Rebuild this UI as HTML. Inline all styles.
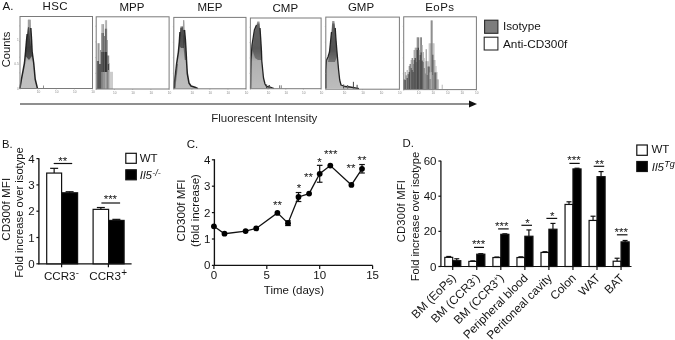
<!DOCTYPE html>
<html><head><meta charset="utf-8"><style>
html,body{margin:0;padding:0;background:#fff;}
svg{display:block;font-family:"Liberation Sans", sans-serif;will-change:transform;}
</style></head><body>
<svg width="675" height="340" viewBox="0 0 675 340">
<defs><filter id="soft" x="-5%" y="-5%" width="110%" height="110%"><feGaussianBlur stdDeviation="0.35"/></filter>
<linearGradient id="g1" x1="0" y1="16" x2="0" y2="89" gradientUnits="userSpaceOnUse"><stop offset="0" stop-color="#b0b0b0"/><stop offset="0.15" stop-color="#888"/><stop offset="0.44" stop-color="#666"/><stop offset="0.63" stop-color="#bdbdbd"/><stop offset="1" stop-color="#c0c0c0"/></linearGradient><linearGradient id="g2" x1="0" y1="16" x2="0" y2="89" gradientUnits="userSpaceOnUse"><stop offset="0" stop-color="#aaa"/><stop offset="0.15" stop-color="#999"/><stop offset="0.26" stop-color="#8a8a8a"/><stop offset="0.4" stop-color="#a0a0a0"/><stop offset="0.6" stop-color="#b8b8b8"/><stop offset="1" stop-color="#bdbdbd"/></linearGradient><linearGradient id="g3" x1="0" y1="16" x2="0" y2="89" gradientUnits="userSpaceOnUse"><stop offset="0" stop-color="#aaa"/><stop offset="0.15" stop-color="#888"/><stop offset="0.45" stop-color="#7a7a7a"/><stop offset="0.62" stop-color="#b0b0b0"/><stop offset="1" stop-color="#bdbdbd"/></linearGradient><linearGradient id="g4" x1="0" y1="16" x2="0" y2="89" gradientUnits="userSpaceOnUse"><stop offset="0" stop-color="#aaa"/><stop offset="0.12" stop-color="#888"/><stop offset="0.45" stop-color="#707070"/><stop offset="0.62" stop-color="#b0b0b0"/><stop offset="1" stop-color="#bdbdbd"/></linearGradient></defs>
<rect width="675" height="340" fill="#fff"/>
<text x="2.6" y="10.2" font-size="11.5" text-anchor="start" fill="#141414" >A.</text>
<text x="55.225" y="9.6" font-size="11.5" text-anchor="middle" fill="#141414" letter-spacing="0.45">HSC</text>
<text x="132.0" y="10.7" font-size="11.5" text-anchor="middle" fill="#141414" >MPP</text>
<text x="210.0" y="11.4" font-size="11.5" text-anchor="middle" fill="#141414" >MEP</text>
<text x="285.3" y="12.0" font-size="11.5" text-anchor="middle" fill="#141414" >CMP</text>
<text x="361.0" y="10.9" font-size="11.5" text-anchor="middle" fill="#141414" >GMP</text>
<text x="439.82500000000005" y="11.4" font-size="11.5" text-anchor="middle" fill="#141414" letter-spacing="0.45">EoPs</text>
<g filter="url(#soft)">
<polygon points="19.90,88.60 21.40,79.30 23.00,71.00 24.50,63.00 25.60,51.50 26.40,42.00 27.20,34.00 27.90,26.00 27.90,19.80 30.60,19.80 30.80,28.00 31.50,39.00 32.10,51.50 33.70,63.00 35.20,79.30 37.50,88.60" fill="url(#g1)" stroke="none" stroke-width="0" fill-opacity="1" stroke-linejoin="round"/>
<polygon points="25.40,56.00 26.20,44.00 27.20,34.00 28.00,26.70 29.00,26.70 29.90,39.00 31.20,48.00 32.00,56.00 29.00,60.00" fill="#2a2a2a" stroke="none" stroke-width="0" fill-opacity="0.7" stroke-linejoin="round"/>
<polygon points="27.90,27.00 27.90,19.80 30.60,19.80 30.80,28.00" fill="#a0a0a0" stroke="none" stroke-width="0" fill-opacity="1" stroke-linejoin="round"/>
<polyline points="19.90,88.60 21.40,79.30 23.00,71.00 24.50,63.00 25.60,51.50 26.40,42.00 27.20,34.00" fill="none" stroke="#222" stroke-width="1.5" stroke-opacity="1" stroke-linejoin="round"/>
<polyline points="30.80,28.00 31.50,39.00 32.10,51.50 33.70,63.00 35.20,79.30 37.50,88.60" fill="none" stroke="#222" stroke-width="1.5" stroke-opacity="1" stroke-linejoin="round"/>
<rect x="43" y="85.5" width="0.8" height="3.5" fill="#777"/>
<polygon points="174.20,88.60 174.50,82.00 175.50,74.00 176.60,64.00 178.40,52.00 179.30,42.50 180.00,32.00 180.30,26.60 182.90,26.00 183.10,20.20 184.20,20.20 184.50,30.00 185.40,40.00 186.10,52.00 186.60,62.00 187.30,73.50 189.00,83.00 191.00,86.00 195.00,87.20 198.00,88.60" fill="url(#g2)" stroke="none" stroke-width="0" fill-opacity="1" stroke-linejoin="round"/>
<polygon points="179.40,46.00 180.00,33.00 180.30,28.00 183.00,27.00 184.40,30.00 185.00,40.00 184.00,48.00 181.00,48.00" fill="#333" stroke="none" stroke-width="0" fill-opacity="0.7" stroke-linejoin="round"/>
<polygon points="183.10,30.00 183.10,20.20 184.20,20.20 184.30,30.00" fill="#a0a0a0" stroke="none" stroke-width="0" fill-opacity="1" stroke-linejoin="round"/>
<polyline points="174.20,88.60 174.50,82.00 175.50,74.00 176.60,64.00 178.40,52.00 179.30,42.50 180.00,32.00" fill="none" stroke="#222" stroke-width="1.5" stroke-opacity="1" stroke-linejoin="round"/>
<polyline points="184.50,30.00 185.40,40.00 186.10,52.00 186.60,62.00 187.30,73.50 189.00,83.00 191.00,86.00 195.00,87.20 198.00,88.60" fill="none" stroke="#222" stroke-width="1.5" stroke-opacity="1" stroke-linejoin="round"/>
<polygon points="183.20,36.00 184.60,31.00 185.40,40.00 186.10,52.00 186.40,60.00 184.80,60.00 183.80,50.00 183.20,42.00" fill="#333" stroke="none" stroke-width="0" fill-opacity="0.6" stroke-linejoin="round"/>
<polygon points="174.30,88.60 174.60,78.00 175.60,72.00 176.80,64.00 178.00,64.00 177.00,74.00 176.00,82.00 175.60,88.60" fill="#444" stroke="none" stroke-width="0" fill-opacity="0.6" stroke-linejoin="round"/>
<polygon points="250.60,88.60 250.80,70.00 251.00,60.00 252.00,45.00 254.40,30.00 256.50,25.00 257.30,21.50 259.50,21.50 260.00,28.00 260.80,40.00 261.50,52.00 261.80,61.00 263.50,78.00 265.00,84.00 266.50,86.50 270.00,87.00 274.00,88.60" fill="url(#g3)" stroke="none" stroke-width="0" fill-opacity="1" stroke-linejoin="round"/>
<polygon points="252.50,50.00 254.60,33.00 257.30,23.50 259.50,23.50 260.60,38.00 261.40,50.00 261.70,60.00 258.00,60.00 255.00,58.00" fill="#333" stroke="none" stroke-width="0" fill-opacity="0.45" stroke-linejoin="round"/>
<polyline points="250.60,88.60 250.80,70.00 251.00,60.00 252.00,45.00 254.40,30.00 256.50,25.00" fill="none" stroke="#222" stroke-width="1.3" stroke-opacity="1" stroke-linejoin="round"/>
<polyline points="260.00,28.00 260.80,40.00 261.50,52.00 261.80,61.00 263.50,78.00 265.00,84.00 266.50,86.50 270.00,87.00 274.00,88.60" fill="none" stroke="#222" stroke-width="1.3" stroke-opacity="1" stroke-linejoin="round"/>
<rect x="266" y="84.5" width="1.2" height="4" fill="#444"/>
<rect x="268.5" y="85" width="1.5" height="3.6" fill="#555"/>
<rect x="279.2" y="85.3" width="0.9" height="3.3" fill="#666"/>
<rect x="280.8" y="85.3" width="0.9" height="3.3" fill="#777"/>
<polygon points="325.80,88.60 325.80,70.00 326.50,60.00 328.00,57.00 329.50,52.00 330.50,42.00 331.50,32.00 332.20,21.00 334.40,21.00 335.20,28.00 336.00,40.00 337.00,52.00 337.70,60.00 338.60,70.00 339.70,80.00 341.00,85.00 345.00,86.50 350.00,87.00 359.00,88.60" fill="url(#g4)" stroke="none" stroke-width="0" fill-opacity="1" stroke-linejoin="round"/>
<polygon points="328.00,62.00 329.50,54.00 330.50,44.00 331.60,33.00 332.30,23.40 334.40,23.40 335.30,32.00 336.20,44.00 337.20,56.00 335.00,62.00" fill="#333" stroke="none" stroke-width="0" fill-opacity="0.5" stroke-linejoin="round"/>
<polyline points="325.80,88.60 325.80,70.00 326.50,60.00 328.00,57.00 329.50,52.00 330.50,42.00 331.50,32.00" fill="none" stroke="#222" stroke-width="1.3" stroke-opacity="1" stroke-linejoin="round"/>
<polyline points="335.20,28.00 336.00,40.00 337.00,52.00 337.70,60.00 338.60,70.00 339.70,80.00 341.00,85.00 345.00,86.50 350.00,87.00 359.00,88.60" fill="none" stroke="#222" stroke-width="1.3" stroke-opacity="1" stroke-linejoin="round"/>
<rect x="352.9" y="81.8" width="1.0" height="6.8" fill="#444"/>
<rect x="356.6" y="84.8" width="1.0" height="3.8" fill="#444"/>
<rect x="343" y="84.5" width="1.2" height="4" fill="#555"/>
<rect x="347" y="85" width="1.2" height="3.6" fill="#666"/>
<rect x="96.8" y="43.2" width="1.20" height="45.80" fill="#ccc"/>
<rect x="96.8" y="61" width="1.20" height="28.00" fill="#666"/>
<rect x="98.0" y="43.2" width="1.00" height="45.80" fill="#999"/>
<rect x="98.0" y="61" width="1.00" height="28.00" fill="#555"/>
<rect x="99.0" y="43.2" width="1.00" height="45.80" fill="#c0c0c0"/>
<rect x="99.0" y="64" width="1.00" height="25.00" fill="#555"/>
<rect x="100.0" y="50" width="1.40" height="39.00" fill="#999"/>
<rect x="100.0" y="64" width="1.40" height="25.00" fill="#555"/>
<rect x="101.4" y="24.1" width="1.00" height="64.90" fill="#aaa"/>
<rect x="101.4" y="33" width="1.00" height="56.00" fill="#777"/>
<rect x="101.4" y="52" width="1.00" height="37.00" fill="#333"/>
<rect x="101.4" y="72" width="1.00" height="17.00" fill="#999"/>
<rect x="102.4" y="24.1" width="1.50" height="64.90" fill="#999"/>
<rect x="102.4" y="33" width="1.50" height="56.00" fill="#666"/>
<rect x="102.4" y="52" width="1.50" height="37.00" fill="#3a3a3a"/>
<rect x="102.4" y="72" width="1.50" height="17.00" fill="#aaa"/>
<rect x="103.9" y="36" width="1.00" height="53.00" fill="#777"/>
<rect x="103.9" y="52" width="1.00" height="37.00" fill="#555"/>
<rect x="103.9" y="72" width="1.00" height="17.00" fill="#aaa"/>
<rect x="104.9" y="20.2" width="1.10" height="68.80" fill="#bbb"/>
<rect x="104.9" y="28.7" width="1.10" height="60.30" fill="#666"/>
<rect x="104.9" y="52" width="1.10" height="37.00" fill="#333"/>
<rect x="104.9" y="72" width="1.10" height="17.00" fill="#aaa"/>
<rect x="106.0" y="20.2" width="1.10" height="68.80" fill="#b0b0b0"/>
<rect x="106.0" y="28.7" width="1.10" height="60.30" fill="#777"/>
<rect x="106.0" y="52" width="1.10" height="37.00" fill="#3a3a3a"/>
<rect x="106.0" y="72" width="1.10" height="17.00" fill="#999"/>
<rect x="107.1" y="40" width="0.70" height="49.00" fill="#888"/>
<rect x="107.1" y="55.5" width="0.70" height="33.50" fill="#555"/>
<rect x="107.1" y="72" width="0.70" height="17.00" fill="#999"/>
<rect x="107.8" y="55.5" width="1.40" height="33.50" fill="#888"/>
<rect x="107.8" y="64" width="1.40" height="25.00" fill="#444"/>
<rect x="107.8" y="70" width="1.40" height="19.00" fill="#999"/>
<rect x="109.2" y="63" width="0.80" height="26.00" fill="#bbb"/>
<rect x="110.0" y="71.8" width="3.00" height="17.20" fill="#ccc"/>
<rect x="403.7" y="79.4" width="1.00" height="9.60" fill="#444"/>
<rect x="404.7" y="72" width="1.00" height="17.00" fill="#999"/>
<rect x="404.7" y="80" width="1.00" height="9.00" fill="#333"/>
<rect x="405.7" y="75.3" width="1.00" height="13.70" fill="#777"/>
<rect x="406.7" y="70" width="1.00" height="19.00" fill="#aaa"/>
<rect x="406.7" y="78" width="1.00" height="11.00" fill="#444"/>
<rect x="407.7" y="74.1" width="1.00" height="14.90" fill="#555"/>
<rect x="408.7" y="66" width="1.00" height="23.00" fill="#888"/>
<rect x="408.7" y="72" width="1.00" height="17.00" fill="#333"/>
<rect x="409.7" y="64" width="1.00" height="25.00" fill="#444"/>
<rect x="410.7" y="60" width="1.00" height="29.00" fill="#aaa"/>
<rect x="410.7" y="68" width="1.00" height="21.00" fill="#555"/>
<rect x="411.7" y="58" width="1.00" height="31.00" fill="#666"/>
<rect x="411.7" y="70" width="1.00" height="19.00" fill="#333"/>
<rect x="412.7" y="64" width="1.00" height="25.00" fill="#999"/>
<rect x="412.7" y="72" width="1.00" height="17.00" fill="#444"/>
<rect x="413.7" y="50" width="1.00" height="39.00" fill="#888"/>
<rect x="413.7" y="60" width="1.00" height="29.00" fill="#333"/>
<rect x="414.7" y="47.7" width="1.00" height="41.30" fill="#aaa"/>
<rect x="414.7" y="58" width="1.00" height="31.00" fill="#222"/>
<rect x="415.7" y="47.7" width="1.00" height="41.30" fill="#777"/>
<rect x="415.7" y="62" width="1.00" height="27.00" fill="#555"/>
<rect x="416.7" y="37.3" width="1.00" height="51.70" fill="#888"/>
<rect x="416.7" y="50" width="1.00" height="39.00" fill="#444"/>
<rect x="417.7" y="37.3" width="1.00" height="51.70" fill="#555"/>
<rect x="417.7" y="47.7" width="1.00" height="41.30" fill="#222"/>
<rect x="418.7" y="50" width="1.00" height="39.00" fill="#999"/>
<rect x="418.7" y="60" width="1.00" height="29.00" fill="#444"/>
<rect x="419.7" y="37.3" width="1.00" height="51.70" fill="#999"/>
<rect x="419.7" y="55" width="1.00" height="34.00" fill="#555"/>
<rect x="420.7" y="37.3" width="1.00" height="51.70" fill="#555"/>
<rect x="420.7" y="52.4" width="1.00" height="36.60" fill="#222"/>
<rect x="421.7" y="45" width="1.00" height="44.00" fill="#aaa"/>
<rect x="421.7" y="60.6" width="1.00" height="28.40" fill="#333"/>
<rect x="422.7" y="52" width="1.00" height="37.00" fill="#999"/>
<rect x="422.7" y="62" width="1.00" height="27.00" fill="#555"/>
<rect x="423.7" y="58" width="1.00" height="31.00" fill="#bbb"/>
<rect x="423.7" y="68" width="1.00" height="21.00" fill="#777"/>
<rect x="424.7" y="73.5" width="1.00" height="15.50" fill="#888"/>
<rect x="425.7" y="49.2" width="1.00" height="39.80" fill="#888"/>
<rect x="425.7" y="61.2" width="1.00" height="27.80" fill="#666"/>
<rect x="426.7" y="61.2" width="1.00" height="27.80" fill="#bbb"/>
<rect x="426.7" y="75" width="1.00" height="14.00" fill="#666"/>
<rect x="427.7" y="61.2" width="1.00" height="27.80" fill="#aaa"/>
<rect x="427.7" y="66.5" width="1.00" height="22.50" fill="#444"/>
<rect x="428.7" y="43.3" width="1.00" height="45.70" fill="#bbb"/>
<rect x="428.7" y="66.5" width="1.00" height="22.50" fill="#333"/>
<rect x="429.7" y="43.3" width="1.00" height="45.70" fill="#b5b5b5"/>
<rect x="429.7" y="72.4" width="1.00" height="16.60" fill="#ddd"/>
<rect x="429.7" y="79" width="1.00" height="10.00" fill="#666"/>
<rect x="430.7" y="20.4" width="0.80" height="68.60" fill="#777"/>
<rect x="430.7" y="43.3" width="0.80" height="45.70" fill="#999"/>
<rect x="430.7" y="72.4" width="0.80" height="16.60" fill="#ddd"/>
<rect x="430.7" y="79" width="0.80" height="10.00" fill="#777"/>
<rect x="431.5" y="20.4" width="1.00" height="68.60" fill="#666"/>
<rect x="431.5" y="43.3" width="1.00" height="45.70" fill="#888"/>
<rect x="431.5" y="72" width="1.00" height="17.00" fill="#ccc"/>
<rect x="432.5" y="43.3" width="1.00" height="45.70" fill="#aaa"/>
<rect x="432.5" y="54.7" width="1.00" height="34.30" fill="#333"/>
<rect x="432.5" y="75" width="1.00" height="14.00" fill="#aaa"/>
<rect x="433.5" y="43.3" width="1.00" height="45.70" fill="#bbb"/>
<rect x="433.5" y="60" width="1.00" height="29.00" fill="#777"/>
<rect x="434.5" y="60" width="1.00" height="29.00" fill="#bbb"/>
<rect x="434.5" y="72.4" width="1.00" height="16.60" fill="#444"/>
<rect x="435.5" y="66" width="1.00" height="23.00" fill="#bbb"/>
<rect x="435.5" y="72.4" width="1.00" height="16.60" fill="#333"/>
<rect x="436.5" y="72" width="1.00" height="17.00" fill="#bbb"/>
<rect x="436.5" y="79.4" width="1.00" height="9.60" fill="#888"/>
<rect x="437.5" y="79.4" width="1.20" height="9.60" fill="#aaa"/>
<rect x="441.8" y="84.7" width="0.70" height="4.30" fill="#999"/>
</g>
<rect x="20" y="88.5" width="72.5" height="3" fill="#fff"/>
<rect x="20" y="16.5" width="72.5" height="72.0" fill="none" stroke="#7a7a7a" stroke-width="1.0"/>
<line x1="20.0" y1="88.5" x2="20.0" y2="89.5" stroke="#888" stroke-width="0.5"/>
<text x="38.525" y="93.3" font-size="3.2" text-anchor="middle" fill="#888" >10</text>
<line x1="38.125" y1="88.5" x2="38.125" y2="89.5" stroke="#888" stroke-width="0.5"/>
<text x="56.65" y="93.3" font-size="3.2" text-anchor="middle" fill="#888" >10</text>
<line x1="56.25" y1="88.5" x2="56.25" y2="89.5" stroke="#888" stroke-width="0.5"/>
<text x="74.775" y="93.3" font-size="3.2" text-anchor="middle" fill="#888" >10</text>
<line x1="74.375" y1="88.5" x2="74.375" y2="89.5" stroke="#888" stroke-width="0.5"/>
<text x="92.9" y="93.3" font-size="3.2" text-anchor="middle" fill="#888" >10</text>
<line x1="92.5" y1="88.5" x2="92.5" y2="89.5" stroke="#888" stroke-width="0.5"/>
<line x1="19" y1="72.84782608695652" x2="20" y2="72.84782608695652" stroke="#999" stroke-width="0.5"/>
<line x1="19" y1="57.19565217391304" x2="20" y2="57.19565217391304" stroke="#999" stroke-width="0.5"/>
<line x1="19" y1="41.54347826086956" x2="20" y2="41.54347826086956" stroke="#999" stroke-width="0.5"/>
<line x1="19" y1="25.89130434782608" x2="20" y2="25.89130434782608" stroke="#999" stroke-width="0.5"/>
<rect x="96.2" y="89.0" width="72.89999999999999" height="3" fill="#fff"/>
<rect x="96.2" y="16.8" width="72.89999999999999" height="72.2" fill="none" stroke="#7a7a7a" stroke-width="1.0"/>
<line x1="96.2" y1="89.0" x2="96.2" y2="90.0" stroke="#888" stroke-width="0.5"/>
<text x="114.825" y="93.8" font-size="3.2" text-anchor="middle" fill="#888" >10</text>
<line x1="114.425" y1="89.0" x2="114.425" y2="90.0" stroke="#888" stroke-width="0.5"/>
<text x="133.05" y="93.8" font-size="3.2" text-anchor="middle" fill="#888" >10</text>
<line x1="132.65" y1="89.0" x2="132.65" y2="90.0" stroke="#888" stroke-width="0.5"/>
<text x="151.275" y="93.8" font-size="3.2" text-anchor="middle" fill="#888" >10</text>
<line x1="150.875" y1="89.0" x2="150.875" y2="90.0" stroke="#888" stroke-width="0.5"/>
<text x="169.5" y="93.8" font-size="3.2" text-anchor="middle" fill="#888" >10</text>
<line x1="169.1" y1="89.0" x2="169.1" y2="90.0" stroke="#888" stroke-width="0.5"/>
<line x1="95.2" y1="73.30434782608695" x2="96.2" y2="73.30434782608695" stroke="#999" stroke-width="0.5"/>
<line x1="95.2" y1="57.60869565217391" x2="96.2" y2="57.60869565217391" stroke="#999" stroke-width="0.5"/>
<line x1="95.2" y1="41.91304347826086" x2="96.2" y2="41.91304347826086" stroke="#999" stroke-width="0.5"/>
<line x1="95.2" y1="26.21739130434782" x2="96.2" y2="26.21739130434782" stroke="#999" stroke-width="0.5"/>
<rect x="173.8" y="88.8" width="72.19999999999999" height="3" fill="#fff"/>
<rect x="173.8" y="17.4" width="72.19999999999999" height="71.4" fill="none" stroke="#7a7a7a" stroke-width="1.0"/>
<line x1="173.8" y1="88.8" x2="173.8" y2="89.8" stroke="#888" stroke-width="0.5"/>
<text x="192.25000000000003" y="93.6" font-size="3.2" text-anchor="middle" fill="#888" >10</text>
<line x1="191.85000000000002" y1="88.8" x2="191.85000000000002" y2="89.8" stroke="#888" stroke-width="0.5"/>
<text x="210.3" y="93.6" font-size="3.2" text-anchor="middle" fill="#888" >10</text>
<line x1="209.9" y1="88.8" x2="209.9" y2="89.8" stroke="#888" stroke-width="0.5"/>
<text x="228.35" y="93.6" font-size="3.2" text-anchor="middle" fill="#888" >10</text>
<line x1="227.95" y1="88.8" x2="227.95" y2="89.8" stroke="#888" stroke-width="0.5"/>
<text x="246.4" y="93.6" font-size="3.2" text-anchor="middle" fill="#888" >10</text>
<line x1="246.0" y1="88.8" x2="246.0" y2="89.8" stroke="#888" stroke-width="0.5"/>
<line x1="172.8" y1="73.27826086956522" x2="173.8" y2="73.27826086956522" stroke="#999" stroke-width="0.5"/>
<line x1="172.8" y1="57.75652173913043" x2="173.8" y2="57.75652173913043" stroke="#999" stroke-width="0.5"/>
<line x1="172.8" y1="42.23478260869564" x2="173.8" y2="42.23478260869564" stroke="#999" stroke-width="0.5"/>
<line x1="172.8" y1="26.713043478260857" x2="173.8" y2="26.713043478260857" stroke="#999" stroke-width="0.5"/>
<rect x="250.4" y="88.7" width="70.70000000000002" height="3" fill="#fff"/>
<rect x="250.4" y="18.0" width="70.70000000000002" height="70.7" fill="none" stroke="#7a7a7a" stroke-width="1.0"/>
<line x1="250.4" y1="88.7" x2="250.4" y2="89.7" stroke="#888" stroke-width="0.5"/>
<text x="268.47499999999997" y="93.5" font-size="3.2" text-anchor="middle" fill="#888" >10</text>
<line x1="268.075" y1="88.7" x2="268.075" y2="89.7" stroke="#888" stroke-width="0.5"/>
<text x="286.15" y="93.5" font-size="3.2" text-anchor="middle" fill="#888" >10</text>
<line x1="285.75" y1="88.7" x2="285.75" y2="89.7" stroke="#888" stroke-width="0.5"/>
<text x="303.825" y="93.5" font-size="3.2" text-anchor="middle" fill="#888" >10</text>
<line x1="303.425" y1="88.7" x2="303.425" y2="89.7" stroke="#888" stroke-width="0.5"/>
<text x="321.5" y="93.5" font-size="3.2" text-anchor="middle" fill="#888" >10</text>
<line x1="321.1" y1="88.7" x2="321.1" y2="89.7" stroke="#888" stroke-width="0.5"/>
<line x1="249.4" y1="73.33043478260869" x2="250.4" y2="73.33043478260869" stroke="#999" stroke-width="0.5"/>
<line x1="249.4" y1="57.96086956521739" x2="250.4" y2="57.96086956521739" stroke="#999" stroke-width="0.5"/>
<line x1="249.4" y1="42.59130434782608" x2="250.4" y2="42.59130434782608" stroke="#999" stroke-width="0.5"/>
<line x1="249.4" y1="27.221739130434777" x2="250.4" y2="27.221739130434777" stroke="#999" stroke-width="0.5"/>
<rect x="325.8" y="89.2" width="73.59999999999997" height="3" fill="#fff"/>
<rect x="325.8" y="17.1" width="73.59999999999997" height="72.1" fill="none" stroke="#7a7a7a" stroke-width="1.0"/>
<line x1="325.8" y1="89.2" x2="325.8" y2="90.2" stroke="#888" stroke-width="0.5"/>
<text x="344.59999999999997" y="94.0" font-size="3.2" text-anchor="middle" fill="#888" >10</text>
<line x1="344.2" y1="89.2" x2="344.2" y2="90.2" stroke="#888" stroke-width="0.5"/>
<text x="363.0" y="94.0" font-size="3.2" text-anchor="middle" fill="#888" >10</text>
<line x1="362.6" y1="89.2" x2="362.6" y2="90.2" stroke="#888" stroke-width="0.5"/>
<text x="381.4" y="94.0" font-size="3.2" text-anchor="middle" fill="#888" >10</text>
<line x1="381.0" y1="89.2" x2="381.0" y2="90.2" stroke="#888" stroke-width="0.5"/>
<text x="399.79999999999995" y="94.0" font-size="3.2" text-anchor="middle" fill="#888" >10</text>
<line x1="399.4" y1="89.2" x2="399.4" y2="90.2" stroke="#888" stroke-width="0.5"/>
<line x1="324.8" y1="73.52608695652174" x2="325.8" y2="73.52608695652174" stroke="#999" stroke-width="0.5"/>
<line x1="324.8" y1="57.85217391304348" x2="325.8" y2="57.85217391304348" stroke="#999" stroke-width="0.5"/>
<line x1="324.8" y1="42.17826086956522" x2="325.8" y2="42.17826086956522" stroke="#999" stroke-width="0.5"/>
<line x1="324.8" y1="26.504347826086956" x2="325.8" y2="26.504347826086956" stroke="#999" stroke-width="0.5"/>
<rect x="403.7" y="89.6" width="72.69999999999999" height="3" fill="#fff"/>
<rect x="403.7" y="16.8" width="72.69999999999999" height="72.8" fill="none" stroke="#7a7a7a" stroke-width="1.0"/>
<line x1="403.7" y1="89.6" x2="403.7" y2="90.6" stroke="#888" stroke-width="0.5"/>
<text x="418.64" y="94.39999999999999" font-size="3.2" text-anchor="middle" fill="#888" >10</text>
<line x1="418.24" y1="89.6" x2="418.24" y2="90.6" stroke="#888" stroke-width="0.5"/>
<text x="433.17999999999995" y="94.39999999999999" font-size="3.2" text-anchor="middle" fill="#888" >10</text>
<line x1="432.78" y1="89.6" x2="432.78" y2="90.6" stroke="#888" stroke-width="0.5"/>
<text x="447.71999999999997" y="94.39999999999999" font-size="3.2" text-anchor="middle" fill="#888" >10</text>
<line x1="447.32" y1="89.6" x2="447.32" y2="90.6" stroke="#888" stroke-width="0.5"/>
<text x="462.25999999999993" y="94.39999999999999" font-size="3.2" text-anchor="middle" fill="#888" >10</text>
<line x1="461.85999999999996" y1="89.6" x2="461.85999999999996" y2="90.6" stroke="#888" stroke-width="0.5"/>
<text x="476.79999999999995" y="94.39999999999999" font-size="3.2" text-anchor="middle" fill="#888" >10</text>
<line x1="476.4" y1="89.6" x2="476.4" y2="90.6" stroke="#888" stroke-width="0.5"/>
<line x1="402.7" y1="73.77391304347826" x2="403.7" y2="73.77391304347826" stroke="#999" stroke-width="0.5"/>
<line x1="402.7" y1="57.94782608695651" x2="403.7" y2="57.94782608695651" stroke="#999" stroke-width="0.5"/>
<line x1="402.7" y1="42.121739130434776" x2="403.7" y2="42.121739130434776" stroke="#999" stroke-width="0.5"/>
<line x1="402.7" y1="26.295652173913034" x2="403.7" y2="26.295652173913034" stroke="#999" stroke-width="0.5"/>
<text x="18.8" y="40.5" font-size="3.2" text-anchor="end" fill="#888" >1</text>
<text x="18.8" y="65" font-size="3.2" text-anchor="end" fill="#888" >0.5</text>
<text x="18.8" y="89.8" font-size="3.2" text-anchor="end" fill="#888" >0</text>
<text x="10.3" y="49.5" font-size="11.2" text-anchor="middle" fill="#141414" transform="rotate(-90 10.3 49.5)">Counts</text>
<line x1="20" y1="104" x2="470" y2="104" stroke="#6a6a6a" stroke-width="1.6"/>
<polygon points="469,100.6 477,104 469,107.4" fill="#111"/>
<text x="264.3" y="122" font-size="11.5" text-anchor="middle" fill="#1e1e1e" >Fluorescent Intensity</text>
<rect x="484.6" y="20.2" width="13.3" height="13.1" fill="#7d7d7d" stroke="#2a2a2a" stroke-width="1.1"/>
<rect x="484.2" y="37.2" width="13.7" height="12.8" fill="#fff" stroke="#2a2a2a" stroke-width="1.1"/>
<text x="503" y="30.2" font-size="11.7" text-anchor="start" fill="#141414" >Isotype</text>
<text x="503" y="47.6" font-size="11.8" text-anchor="start" fill="#141414" >Anti-CD300f</text>
<text x="2.0" y="147.6" font-size="11.2" text-anchor="start" fill="#141414" >B.</text>
<text x="10.4" y="209.3" font-size="11.5" text-anchor="middle" fill="#141414" transform="rotate(-90 10.4 209.3)" textLength="62.8">CD300f MFI</text>
<text x="23.3" y="212.5" font-size="11.2" text-anchor="middle" fill="#141414" transform="rotate(-90 23.3 212.5)" textLength="130.5">Fold increase over isotype</text>
<line x1="38.9" y1="158.2" x2="38.9" y2="264.3" stroke="#111" stroke-width="1.35"/>
<line x1="38.4" y1="263.8" x2="131.6" y2="263.8" stroke="#111" stroke-width="1.2"/>
<line x1="36.4" y1="263.8" x2="38.9" y2="263.8" stroke="#111" stroke-width="1.2"/>
<text x="34.6" y="267.8" font-size="11.5" text-anchor="end" fill="#141414" >0</text>
<line x1="36.4" y1="237.5" x2="38.9" y2="237.5" stroke="#111" stroke-width="1.2"/>
<text x="34.6" y="241.5" font-size="11.5" text-anchor="end" fill="#141414" >1</text>
<line x1="36.4" y1="211.20000000000002" x2="38.9" y2="211.20000000000002" stroke="#111" stroke-width="1.2"/>
<text x="34.6" y="215.20000000000002" font-size="11.5" text-anchor="end" fill="#141414" >2</text>
<line x1="36.4" y1="184.9" x2="38.9" y2="184.9" stroke="#111" stroke-width="1.2"/>
<text x="34.6" y="188.9" font-size="11.5" text-anchor="end" fill="#141414" >3</text>
<line x1="36.4" y1="158.60000000000002" x2="38.9" y2="158.60000000000002" stroke="#111" stroke-width="1.2"/>
<text x="34.6" y="162.60000000000002" font-size="11.5" text-anchor="end" fill="#141414" >4</text>
<line x1="61.6" y1="263.8" x2="61.6" y2="267.3" stroke="#111" stroke-width="1.2"/>
<line x1="108.4" y1="263.8" x2="108.4" y2="267.3" stroke="#111" stroke-width="1.2"/>
<rect x="46.7" y="173.065" width="14.899999999999999" height="90.73500000000001" fill="#fff" stroke="#111" stroke-width="1.2"/>
<line x1="54.150000000000006" y1="173.065" x2="54.150000000000006" y2="168.33100000000002" stroke="#111" stroke-width="1.2"/>
<line x1="50.150000000000006" y1="168.33100000000002" x2="58.150000000000006" y2="168.33100000000002" stroke="#111" stroke-width="1.2"/>
<rect x="61.6" y="192.79000000000002" width="15.999999999999993" height="71.00999999999999" fill="#000" stroke="#111" stroke-width="1.2"/>
<line x1="69.6" y1="192.79000000000002" x2="69.6" y2="191.738" stroke="#111" stroke-width="1.2"/>
<line x1="65.6" y1="191.738" x2="73.6" y2="191.738" stroke="#111" stroke-width="1.2"/>
<rect x="93.1" y="209.359" width="15.5" height="54.441" fill="#fff" stroke="#111" stroke-width="1.2"/>
<line x1="100.85" y1="209.359" x2="100.85" y2="207.51800000000003" stroke="#111" stroke-width="1.2"/>
<line x1="96.85" y1="207.51800000000003" x2="104.85" y2="207.51800000000003" stroke="#111" stroke-width="1.2"/>
<rect x="108.6" y="220.40500000000003" width="15.5" height="43.39499999999998" fill="#000" stroke="#111" stroke-width="1.2"/>
<line x1="116.35" y1="220.40500000000003" x2="116.35" y2="219.353" stroke="#111" stroke-width="1.2"/>
<line x1="112.35" y1="219.353" x2="120.35" y2="219.353" stroke="#111" stroke-width="1.2"/>
<line x1="53.7" y1="163.5" x2="72.2" y2="163.5" stroke="#111" stroke-width="1.2"/>
<text x="62.8" y="164.58" font-size="11.5" text-anchor="middle" fill="#141414" >**</text>
<line x1="101.4" y1="203.0" x2="120.1" y2="203.0" stroke="#111" stroke-width="1.2"/>
<text x="110.4" y="202.88" font-size="11.5" text-anchor="middle" fill="#141414" >***</text>
<text x="61.4" y="279.9" font-size="11.6" text-anchor="middle" fill="#141414" >CCR3<tspan dx="0.2" dy="-4.0" font-size="9.5">-</tspan></text>
<text x="108.2" y="279.9" font-size="11.6" text-anchor="middle" fill="#141414" >CCR3<tspan dx="0.4" dy="-3.5" font-size="10">+</tspan></text>
<rect x="125.8" y="153.3" width="10.5" height="10" fill="#fff" stroke="#111" stroke-width="1.2"/>
<rect x="125.8" y="169.8" width="10.5" height="10" fill="#000" stroke="#111" stroke-width="1.2"/>
<text x="139.7" y="161.8" font-size="11.5" text-anchor="start" fill="#141414" >WT</text>
<text x="139.7" y="178.9" font-size="11.5" text-anchor="start" fill="#141414" ><tspan font-style="italic">Il5</tspan><tspan dx="0.3" dy="-3.3" font-size="9" font-style="italic">-/-</tspan></text>
<text x="186.8" y="147.8" font-size="11.5" text-anchor="start" fill="#141414" >C.</text>
<text x="185.2" y="210.5" font-size="11.5" text-anchor="middle" fill="#141414" transform="rotate(-90 185.2 210.5)">CD300f MFI</text>
<text x="198.8" y="210.5" font-size="11.5" text-anchor="middle" fill="#141414" transform="rotate(-90 198.8 210.5)">(fold increase)</text>
<line x1="214.4" y1="159.2" x2="214.4" y2="265.9" stroke="#111" stroke-width="1.35"/>
<line x1="213.9" y1="265.4" x2="372.7" y2="265.4" stroke="#111" stroke-width="1.2"/>
<line x1="211.9" y1="265.4" x2="214.4" y2="265.4" stroke="#111" stroke-width="1.2"/>
<text x="210.3" y="269.4" font-size="11.5" text-anchor="end" fill="#141414" >0</text>
<line x1="211.9" y1="238.99999999999997" x2="214.4" y2="238.99999999999997" stroke="#111" stroke-width="1.2"/>
<text x="210.3" y="242.99999999999997" font-size="11.5" text-anchor="end" fill="#141414" >1</text>
<line x1="211.9" y1="212.59999999999997" x2="214.4" y2="212.59999999999997" stroke="#111" stroke-width="1.2"/>
<text x="210.3" y="216.59999999999997" font-size="11.5" text-anchor="end" fill="#141414" >2</text>
<line x1="211.9" y1="186.2" x2="214.4" y2="186.2" stroke="#111" stroke-width="1.2"/>
<text x="210.3" y="190.2" font-size="11.5" text-anchor="end" fill="#141414" >3</text>
<line x1="211.9" y1="159.79999999999998" x2="214.4" y2="159.79999999999998" stroke="#111" stroke-width="1.2"/>
<text x="210.3" y="163.79999999999998" font-size="11.5" text-anchor="end" fill="#141414" >4</text>
<line x1="213.9" y1="265.4" x2="213.9" y2="268.9" stroke="#111" stroke-width="1.2"/>
<text x="213.9" y="279.2" font-size="11.5" text-anchor="middle" fill="#141414" >0</text>
<line x1="266.8" y1="265.4" x2="266.8" y2="268.9" stroke="#111" stroke-width="1.2"/>
<text x="266.8" y="279.2" font-size="11.5" text-anchor="middle" fill="#141414" >5</text>
<line x1="319.7" y1="265.4" x2="319.7" y2="268.9" stroke="#111" stroke-width="1.2"/>
<text x="319.7" y="279.2" font-size="11.5" text-anchor="middle" fill="#141414" >10</text>
<line x1="372.6" y1="265.4" x2="372.6" y2="268.9" stroke="#111" stroke-width="1.2"/>
<text x="372.6" y="279.2" font-size="11.5" text-anchor="middle" fill="#141414" >15</text>
<text x="294" y="293.5" font-size="11.5" text-anchor="middle" fill="#141414" >Time (days)</text>
<polyline points="213.9,226.3 224.5,233.7 245.6,231.1 256.2,228.4 277.4,212.9 288.0,223.2 298.5,197.0 309.1,193.6 319.7,173.8 330.3,165.6 351.4,184.9 362.0,168.8" fill="none" stroke="#111" stroke-width="1.3"/>
<circle cx="213.9" cy="226.3" r="2.9" fill="#000"/>
<circle cx="224.5" cy="233.7" r="2.9" fill="#000"/>
<circle cx="245.6" cy="231.1" r="2.9" fill="#000"/>
<circle cx="256.2" cy="228.4" r="2.9" fill="#000"/>
<circle cx="277.4" cy="212.9" r="2.9" fill="#000"/>
<line x1="287.96000000000004" y1="220.784" x2="287.96000000000004" y2="225.53599999999997" stroke="#111" stroke-width="1.2"/>
<line x1="285.16" y1="220.784" x2="290.76000000000005" y2="220.784" stroke="#111" stroke-width="1.2"/>
<line x1="285.16" y1="225.53599999999997" x2="290.76000000000005" y2="225.53599999999997" stroke="#111" stroke-width="1.2"/>
<circle cx="288.0" cy="223.2" r="2.9" fill="#000"/>
<line x1="298.54" y1="192.536" x2="298.54" y2="201.51199999999997" stroke="#111" stroke-width="1.2"/>
<line x1="295.74" y1="192.536" x2="301.34000000000003" y2="192.536" stroke="#111" stroke-width="1.2"/>
<line x1="295.74" y1="201.51199999999997" x2="301.34000000000003" y2="201.51199999999997" stroke="#111" stroke-width="1.2"/>
<circle cx="298.5" cy="197.0" r="2.9" fill="#000"/>
<circle cx="309.1" cy="193.6" r="2.9" fill="#000"/>
<line x1="319.7" y1="165.344" x2="319.7" y2="182.23999999999995" stroke="#111" stroke-width="1.2"/>
<line x1="316.9" y1="165.344" x2="322.5" y2="165.344" stroke="#111" stroke-width="1.2"/>
<line x1="316.9" y1="182.23999999999995" x2="322.5" y2="182.23999999999995" stroke="#111" stroke-width="1.2"/>
<circle cx="319.7" cy="173.8" r="2.9" fill="#000"/>
<circle cx="330.3" cy="165.6" r="2.9" fill="#000"/>
<circle cx="351.4" cy="184.9" r="2.9" fill="#000"/>
<line x1="362.02" y1="164.55199999999996" x2="362.02" y2="173.0" stroke="#111" stroke-width="1.2"/>
<line x1="359.21999999999997" y1="164.55199999999996" x2="364.82" y2="164.55199999999996" stroke="#111" stroke-width="1.2"/>
<line x1="359.21999999999997" y1="173.0" x2="364.82" y2="173.0" stroke="#111" stroke-width="1.2"/>
<circle cx="362.0" cy="168.8" r="2.9" fill="#000"/>
<text x="277.5" y="208.98" font-size="11.5" text-anchor="middle" fill="#141414" >**</text>
<text x="299" y="191.78" font-size="11.5" text-anchor="middle" fill="#141414" >*</text>
<text x="308.5" y="181.48" font-size="11.5" text-anchor="middle" fill="#141414" >**</text>
<text x="319.6" y="165.58" font-size="11.5" text-anchor="middle" fill="#141414" >*</text>
<text x="330.8" y="158.18" font-size="11.5" text-anchor="middle" fill="#141414" >***</text>
<text x="350.9" y="172.38" font-size="11.5" text-anchor="middle" fill="#141414" >**</text>
<text x="362" y="164.48" font-size="11.5" text-anchor="middle" fill="#141414" >**</text>
<text x="402.6" y="147.4" font-size="11.4" text-anchor="start" fill="#141414" >D.</text>
<text x="405.5" y="211.2" font-size="11.2" text-anchor="middle" fill="#141414" transform="rotate(-90 405.5 211.2)" textLength="62">CD300f MFI</text>
<text x="418.5" y="216.5" font-size="11.2" text-anchor="middle" fill="#141414" transform="rotate(-90 418.5 216.5)" textLength="129.5">Fold increase over isotype</text>
<line x1="440.9" y1="160.8" x2="440.9" y2="267.0" stroke="#333" stroke-width="1.5"/>
<line x1="440.4" y1="266.5" x2="631.5" y2="266.5" stroke="#111" stroke-width="1.2"/>
<line x1="438.4" y1="266.5" x2="440.9" y2="266.5" stroke="#111" stroke-width="1.2"/>
<text x="436.5" y="270.5" font-size="11.5" text-anchor="end" fill="#141414" >0</text>
<line x1="438.4" y1="231.34" x2="440.9" y2="231.34" stroke="#111" stroke-width="1.2"/>
<text x="436.5" y="235.34" font-size="11.5" text-anchor="end" fill="#141414" >20</text>
<line x1="438.4" y1="196.18" x2="440.9" y2="196.18" stroke="#111" stroke-width="1.2"/>
<text x="436.5" y="200.18" font-size="11.5" text-anchor="end" fill="#141414" >40</text>
<line x1="438.4" y1="161.01999999999998" x2="440.9" y2="161.01999999999998" stroke="#111" stroke-width="1.2"/>
<text x="436.5" y="165.01999999999998" font-size="11.5" text-anchor="end" fill="#141414" >60</text>
<line x1="452.7" y1="266.5" x2="452.7" y2="270.0" stroke="#111" stroke-width="1.2"/>
<rect x="444.8" y="257.3584" width="7.899999999999977" height="9.141599999999983" fill="#fff" stroke="#111" stroke-width="1.2"/>
<line x1="448.75" y1="257.3584" x2="448.75" y2="256.4794" stroke="#111" stroke-width="1.2"/>
<line x1="446.25" y1="256.4794" x2="451.25" y2="256.4794" stroke="#111" stroke-width="1.2"/>
<rect x="452.7" y="260.6986" width="8.100000000000023" height="5.801400000000001" fill="#000" stroke="#111" stroke-width="1.2"/>
<line x1="456.75" y1="260.6986" x2="456.75" y2="258.7648" stroke="#111" stroke-width="1.2"/>
<line x1="454.25" y1="258.7648" x2="459.25" y2="258.7648" stroke="#111" stroke-width="1.2"/>
<text x="0" y="0" font-size="11.8" text-anchor="end" fill="#141414" transform="translate(456.5,278.8) rotate(-45)">BM (EoPs)</text>
<line x1="476.75" y1="266.5" x2="476.75" y2="270.0" stroke="#111" stroke-width="1.2"/>
<rect x="468.85" y="261.4018" width="7.899999999999977" height="5.09820000000002" fill="#fff" stroke="#111" stroke-width="1.2"/>
<line x1="472.8" y1="261.4018" x2="472.8" y2="260.8744" stroke="#111" stroke-width="1.2"/>
<line x1="470.3" y1="260.8744" x2="475.3" y2="260.8744" stroke="#111" stroke-width="1.2"/>
<rect x="476.75" y="254.194" width="8.100000000000023" height="12.306000000000012" fill="#000" stroke="#111" stroke-width="1.2"/>
<line x1="480.8" y1="254.194" x2="480.8" y2="253.6666" stroke="#111" stroke-width="1.2"/>
<line x1="478.3" y1="253.6666" x2="483.3" y2="253.6666" stroke="#111" stroke-width="1.2"/>
<line x1="474" y1="247.4" x2="484" y2="247.4" stroke="#111" stroke-width="1.2"/>
<text x="478.6" y="248.28" font-size="11.5" text-anchor="middle" fill="#141414" >***</text>
<text x="0" y="0" font-size="11.8" text-anchor="end" fill="#141414" transform="translate(480.55,278.8) rotate(-45)">BM (CCR3<tspan dy="-4" font-size="7">-</tspan><tspan dy="4">)</tspan></text>
<line x1="500.8" y1="266.5" x2="500.8" y2="270.0" stroke="#111" stroke-width="1.2"/>
<rect x="492.90000000000003" y="257.5342" width="7.899999999999977" height="8.965800000000002" fill="#fff" stroke="#111" stroke-width="1.2"/>
<line x1="496.85" y1="257.5342" x2="496.85" y2="257.0068" stroke="#111" stroke-width="1.2"/>
<line x1="494.35" y1="257.0068" x2="499.35" y2="257.0068" stroke="#111" stroke-width="1.2"/>
<rect x="500.8" y="234.3286" width="8.100000000000023" height="32.171400000000006" fill="#000" stroke="#111" stroke-width="1.2"/>
<line x1="504.85" y1="234.3286" x2="504.85" y2="233.8012" stroke="#111" stroke-width="1.2"/>
<line x1="502.35" y1="233.8012" x2="507.35" y2="233.8012" stroke="#111" stroke-width="1.2"/>
<line x1="498.1" y1="228.9" x2="508.7" y2="228.9" stroke="#111" stroke-width="1.2"/>
<text x="501.8" y="229.68" font-size="11.5" text-anchor="middle" fill="#141414" >***</text>
<text x="0" y="0" font-size="11.8" text-anchor="end" fill="#141414" transform="translate(504.6,278.8) rotate(-45)">BM (CCR3<tspan dy="-4" font-size="7">+</tspan><tspan dy="4">)</tspan></text>
<line x1="524.85" y1="266.5" x2="524.85" y2="270.0" stroke="#111" stroke-width="1.2"/>
<rect x="516.95" y="257.5342" width="7.899999999999977" height="8.965800000000002" fill="#fff" stroke="#111" stroke-width="1.2"/>
<line x1="520.9000000000001" y1="257.5342" x2="520.9000000000001" y2="256.831" stroke="#111" stroke-width="1.2"/>
<line x1="518.4000000000001" y1="256.831" x2="523.4000000000001" y2="256.831" stroke="#111" stroke-width="1.2"/>
<rect x="524.85" y="236.2624" width="8.100000000000023" height="30.237599999999986" fill="#000" stroke="#111" stroke-width="1.2"/>
<line x1="528.9000000000001" y1="236.2624" x2="528.9000000000001" y2="229.9336" stroke="#111" stroke-width="1.2"/>
<line x1="526.4000000000001" y1="229.9336" x2="531.4000000000001" y2="229.9336" stroke="#111" stroke-width="1.2"/>
<line x1="521.4" y1="225.3" x2="532" y2="225.3" stroke="#111" stroke-width="1.2"/>
<text x="527.6" y="226.68" font-size="11.5" text-anchor="middle" fill="#141414" >*</text>
<text x="0" y="0" font-size="11.8" text-anchor="end" fill="#141414" transform="translate(528.65,278.8) rotate(-45)">Peripheral blood</text>
<line x1="548.9" y1="266.5" x2="548.9" y2="270.0" stroke="#111" stroke-width="1.2"/>
<rect x="541.0" y="252.436" width="7.899999999999977" height="14.063999999999993" fill="#fff" stroke="#111" stroke-width="1.2"/>
<line x1="544.95" y1="252.436" x2="544.95" y2="251.7328" stroke="#111" stroke-width="1.2"/>
<line x1="542.45" y1="251.7328" x2="547.45" y2="251.7328" stroke="#111" stroke-width="1.2"/>
<rect x="548.9" y="229.2304" width="8.100000000000023" height="37.2696" fill="#000" stroke="#111" stroke-width="1.2"/>
<line x1="552.95" y1="229.2304" x2="552.95" y2="223.429" stroke="#111" stroke-width="1.2"/>
<line x1="550.45" y1="223.429" x2="555.45" y2="223.429" stroke="#111" stroke-width="1.2"/>
<line x1="546.4" y1="218.4" x2="557.2" y2="218.4" stroke="#111" stroke-width="1.2"/>
<text x="552.3" y="219.98" font-size="11.5" text-anchor="middle" fill="#141414" >*</text>
<text x="0" y="0" font-size="11.8" text-anchor="end" fill="#141414" transform="translate(552.6999999999999,278.8) rotate(-45)">Peritoneal cavity</text>
<line x1="572.95" y1="266.5" x2="572.95" y2="270.0" stroke="#111" stroke-width="1.2"/>
<rect x="565.0500000000001" y="204.4426" width="7.899999999999977" height="62.0574" fill="#fff" stroke="#111" stroke-width="1.2"/>
<line x1="569.0" y1="204.4426" x2="569.0" y2="201.8056" stroke="#111" stroke-width="1.2"/>
<line x1="566.5" y1="201.8056" x2="571.5" y2="201.8056" stroke="#111" stroke-width="1.2"/>
<rect x="572.95" y="168.93099999999998" width="8.100000000000023" height="97.56900000000002" fill="#000" stroke="#111" stroke-width="1.2"/>
<line x1="577.0" y1="168.93099999999998" x2="577.0" y2="168.2278" stroke="#111" stroke-width="1.2"/>
<line x1="574.5" y1="168.2278" x2="579.5" y2="168.2278" stroke="#111" stroke-width="1.2"/>
<line x1="569.4" y1="163.4" x2="579.7" y2="163.4" stroke="#111" stroke-width="1.2"/>
<text x="574" y="164.08" font-size="11.5" text-anchor="middle" fill="#141414" >***</text>
<text x="0" y="0" font-size="11.8" text-anchor="end" fill="#141414" transform="translate(576.75,278.8) rotate(-45)">Colon</text>
<line x1="597.0" y1="266.5" x2="597.0" y2="270.0" stroke="#111" stroke-width="1.2"/>
<rect x="589.1" y="220.4404" width="7.899999999999977" height="46.05959999999999" fill="#fff" stroke="#111" stroke-width="1.2"/>
<line x1="593.05" y1="220.4404" x2="593.05" y2="216.2212" stroke="#111" stroke-width="1.2"/>
<line x1="590.55" y1="216.2212" x2="595.55" y2="216.2212" stroke="#111" stroke-width="1.2"/>
<rect x="597.0" y="176.6662" width="8.100000000000023" height="89.8338" fill="#000" stroke="#111" stroke-width="1.2"/>
<line x1="601.05" y1="176.6662" x2="601.05" y2="171.56799999999998" stroke="#111" stroke-width="1.2"/>
<line x1="598.55" y1="171.56799999999998" x2="603.55" y2="171.56799999999998" stroke="#111" stroke-width="1.2"/>
<line x1="593.7" y1="166.3" x2="604.2" y2="166.3" stroke="#111" stroke-width="1.2"/>
<text x="599.5" y="168.28" font-size="11.5" text-anchor="middle" fill="#141414" >**</text>
<text x="0" y="0" font-size="11.8" text-anchor="end" fill="#141414" transform="translate(600.8,278.8) rotate(-45)">WAT</text>
<line x1="621.05" y1="266.5" x2="621.05" y2="270.0" stroke="#111" stroke-width="1.2"/>
<rect x="613.15" y="261.226" width="7.899999999999977" height="5.274000000000001" fill="#fff" stroke="#111" stroke-width="1.2"/>
<line x1="617.0999999999999" y1="261.226" x2="617.0999999999999" y2="258.2374" stroke="#111" stroke-width="1.2"/>
<line x1="614.5999999999999" y1="258.2374" x2="619.5999999999999" y2="258.2374" stroke="#111" stroke-width="1.2"/>
<rect x="621.05" y="241.888" width="8.100000000000023" height="24.611999999999995" fill="#000" stroke="#111" stroke-width="1.2"/>
<line x1="625.0999999999999" y1="241.888" x2="625.0999999999999" y2="240.48160000000001" stroke="#111" stroke-width="1.2"/>
<line x1="622.5999999999999" y1="240.48160000000001" x2="627.5999999999999" y2="240.48160000000001" stroke="#111" stroke-width="1.2"/>
<line x1="616.9" y1="234.8" x2="627.5" y2="234.8" stroke="#111" stroke-width="1.2"/>
<text x="621.2" y="235.88" font-size="11.5" text-anchor="middle" fill="#141414" >***</text>
<text x="0" y="0" font-size="11.8" text-anchor="end" fill="#141414" transform="translate(624.8499999999999,278.8) rotate(-45)">BAT</text>
<rect x="636.8" y="145" width="10.5" height="10.3" fill="#fff" stroke="#111" stroke-width="1.2"/>
<rect x="636.8" y="161.5" width="10.5" height="10" fill="#000" stroke="#111" stroke-width="1.2"/>
<text x="651.5" y="153.2" font-size="11.5" text-anchor="start" fill="#141414" >WT</text>
<text x="651.8" y="170.9" font-size="11.5" text-anchor="start" fill="#141414" ><tspan font-style="italic">Il5</tspan><tspan dx="0.2" dy="-3.6" font-size="9" font-style="italic">Tg</tspan></text>
</svg>
</body></html>
